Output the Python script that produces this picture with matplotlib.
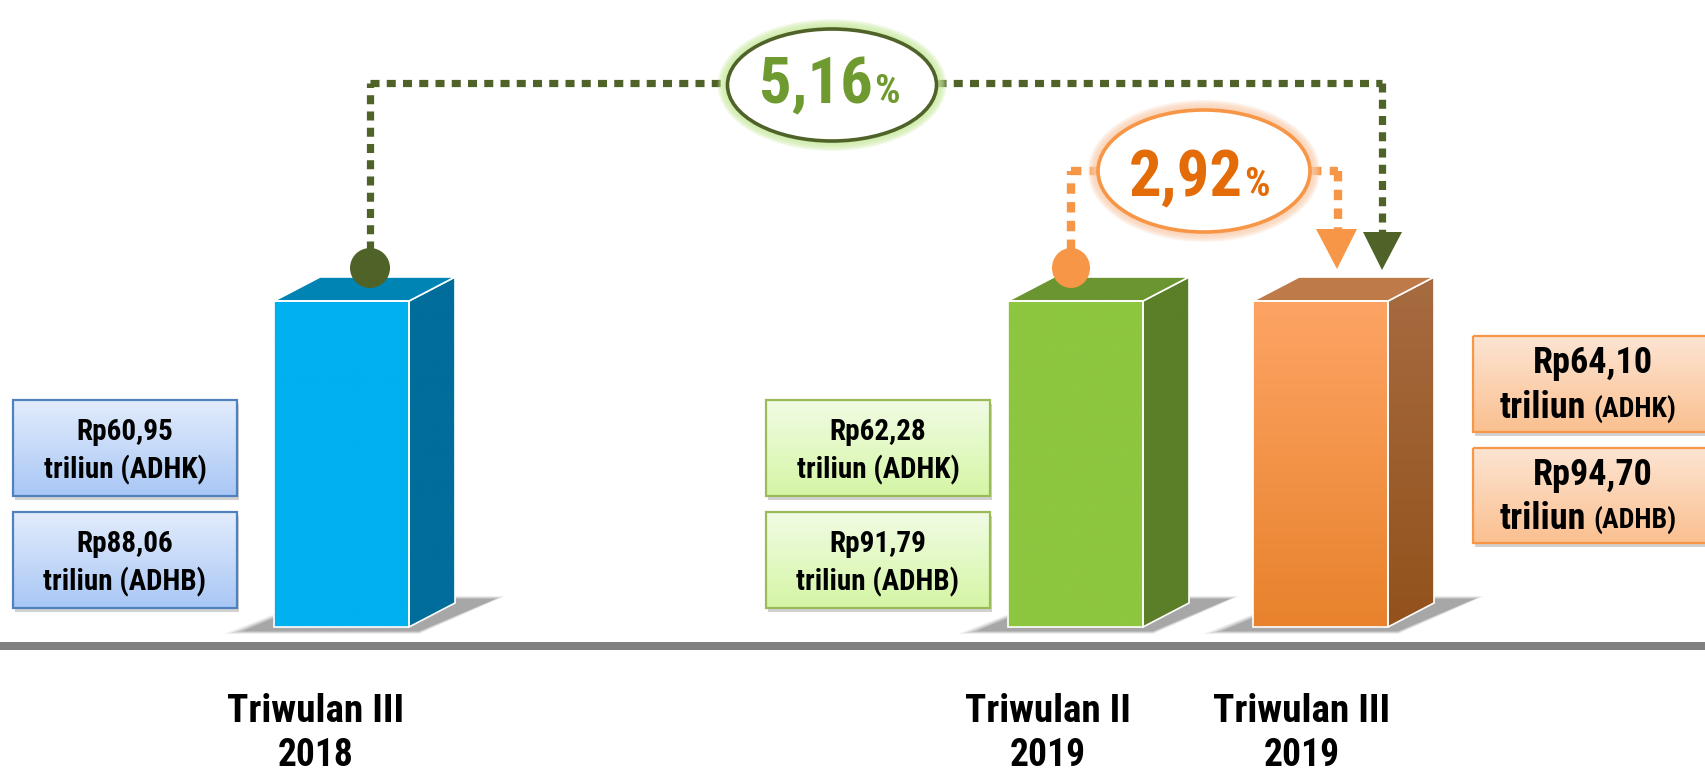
import numpy as np
import matplotlib
matplotlib.use("Agg")
import matplotlib.pyplot as plt
from matplotlib import font_manager as fm
from matplotlib.patches import Polygon, Rectangle, Ellipse
from matplotlib.colors import to_rgb

# ---------------- data ----------------
categories = ["Triwulan III\n2018", "Triwulan II\n2019", "Triwulan III\n2019"]
adhk_values = [60.95, 62.28, 64.10]
adhb_values = [88.06, 91.79, 94.70]
growth_labels = ["5,16", "2,92"]

# ---------------- font choice (condensed if available) ----------------
avail = {f.name for f in fm.fontManager.ttflist}
STRETCH = "normal"
FAM = None
for cand in ["Liberation Sans Narrow", "Arial Narrow", "Roboto Condensed", "Noto Sans Condensed",
             "Open Sans Condensed", "Nimbus Sans Narrow", "Noto Sans SemiCondensed"]:
    if cand in avail:
        FAM = cand
        break
if FAM is None:
    extra = sorted(n for n in avail if ("Condensed" in n or "Narrow" in n) and "Sans" in n)
    if extra:
        FAM = extra[0]
if FAM is None:
    dv_cond = [f for f in fm.fontManager.ttflist if f.name == "DejaVu Sans" and f.stretch == "condensed"]
    if dv_cond:
        FAM, STRETCH = "DejaVu Sans", "condensed"
    else:
        FAM = "Liberation Sans"
plt.rcParams["font.family"] = [FAM, "DejaVu Sans"]

W, H = 1706, 777
fig = plt.figure(figsize=(W / 100, H / 100), dpi=100)
ax = fig.add_axes([0, 0, 1, 1])
ax.set_axis_off()
ax.set_xlim(0, W)
ax.set_ylim(H, 0)
renderer = fig.canvas.get_renderer()

def fmt(v):
    return f"{v:.2f}".replace(".", ",")

def fit_text(x, y, s, size, target_w, **kw):
    t = ax.text(x, y, s, fontsize=size, fontweight="bold", fontstretch=STRETCH, zorder=kw.pop("zorder", 8), **kw)
    w = t.get_window_extent(renderer=renderer).width
    if w > target_w:
        t.set_fontsize(size * target_w / w)
    return t

def grad_fill(patch, c_top, c_bot, y0, y1, x0, x1, z):
    ax.add_patch(patch)
    n = 64
    t = np.linspace(0, 1, n)[:, None, None]
    arr = (1 - t) * np.array(to_rgb(c_top))[None, None, :] + t * np.array(to_rgb(c_bot))[None, None, :]
    im = ax.imshow(arr, extent=[x0, x1, y1, y0], origin="upper", aspect="auto",
                   zorder=z, interpolation="bicubic")
    im.set_clip_path(patch)

# bar geometry
bar_x0 = [274, 1008, 1253]
bar_w = 135
bar_top, bar_bot = 301, 627
dx, dy = 46, 24
front_cols = [("#00B0F0", "#00B0F0"), ("#8DC63F", "#8DC63F"), ("#FDA464", "#E8822C")]
top_cols = ["#0084B4", "#6A9530", "#BF7A4A"]
side_cols = [("#006D9B", "#006D9B"), ("#5B7F28", "#5B7F28"), ("#A66B40", "#93521C")]

# ground line
ax.add_patch(Rectangle((0, 642), W, 8, facecolor="#808080", edgecolor="none", zorder=1))

for i in range(len(categories)):
    x0 = bar_x0[i]
    x1 = x0 + bar_w
    for k, a in enumerate([0.08, 0.12, 0.16, 0.20]):
        g = 10 - k * 3
        ax.add_patch(Polygon([(x0 - 50 + k * 6, bar_bot + 4 + g * 0.3), (x1 + 10, bar_bot + 4 + g * 0.3),
                              (x1 + dx + 40 + g, bar_bot - dy - 4 - g * 0.3), (x0 + dx, bar_bot - dy - 4 - g * 0.3)],
                             closed=True, facecolor="#404040", edgecolor="none", alpha=a, zorder=2))
    side = Polygon([(x1, bar_top), (x1 + dx, bar_top - dy), (x1 + dx, bar_bot - dy), (x1, bar_bot)],
                   closed=True, facecolor="none", edgecolor="none", zorder=3)
    grad_fill(side, side_cols[i][0], side_cols[i][1], bar_top - dy, bar_bot, x1, x1 + dx, 3)
    ax.add_patch(Polygon([(x1, bar_top), (x1 + dx, bar_top - dy), (x1 + dx, bar_bot - dy), (x1, bar_bot)],
                         closed=True, facecolor="none", edgecolor="white", lw=1.2, zorder=4))
    ax.add_patch(Polygon([(x0, bar_top), (x1, bar_top), (x1 + dx, bar_top - dy), (x0 + dx, bar_top - dy)],
                         closed=True, facecolor=top_cols[i], edgecolor="white", lw=1.2, zorder=4))
    front = Rectangle((x0, bar_top), bar_w, bar_bot - bar_top, facecolor="none", edgecolor="none", zorder=3)
    grad_fill(front, front_cols[i][0], front_cols[i][1], bar_top, bar_bot, x0, x1, 3)
    ax.add_patch(Rectangle((x0, bar_top), bar_w, bar_bot - bar_top, facecolor="none",
                           edgecolor="white", lw=1.2, zorder=4))

# category labels
cat_x = [316, 1048, 1302]
cat_w1 = [177, 166, 177]
for i, c in enumerate(categories):
    l1, l2 = c.split("\n")
    fit_text(cat_x[i], 712, l1, 31, cat_w1[i], ha="center", va="center", color="black", zorder=5)
    fit_text(cat_x[i], 755, l2, 31, 76, ha="center", va="center", color="black", zorder=5)

# value boxes
box_geom = [(13, 237, [(400, 496), (512, 608)]),
            (766, 990, [(400, 496), (512, 608)]),
            (1473, 1712, [(336, 432), (448, 543)])]
box_cols = [("#E2ECFC", "#A9C7F5", "#4F81BD"),
            ("#F1FCE4", "#D5F5A5", "#9BBB59"),
            ("#FDE4D2", "#FAC090", "#F79646")]
for i in range(len(categories)):
    bx0, bx1, rows = box_geom[i]
    ct, cb, ce = box_cols[i]
    vals = [(adhk_values[i], "ADHK"), (adhb_values[i], "ADHB")]
    for (y0, y1), (v, kind) in zip(rows, vals):
        ax.add_patch(Rectangle((bx0 + 2, y0 + 4), bx1 - bx0, y1 - y0, facecolor="#000000",
                               edgecolor="none", alpha=0.18, zorder=5))
        r = Rectangle((bx0, y0), bx1 - bx0, y1 - y0, facecolor="none", edgecolor="none", zorder=6)
        grad_fill(r, ct, cb, y0, y1, bx0, bx1, 6)
        ax.add_patch(Rectangle((bx0, y0), bx1 - bx0, y1 - y0, facecolor="none", edgecolor=ce, lw=1.6, zorder=7))
        h = y1 - y0
        if i < 2:
            cx = (bx0 + bx1) / 2
            fit_text(cx, y0 + h * 0.33, f"Rp{fmt(v)}", 21, 100, ha="center", va="center")
            fit_text(cx, y0 + h * 0.73, f"triliun ({kind})", 21, 168, ha="center", va="center")
        else:
            fit_text(1593, y0 + h * 0.28, f"Rp{fmt(v)}", 26, 120, ha="center", va="center")
            fit_text(1586, y0 + h * 0.75, "triliun", 26, 88, ha="right", va="center")
            fit_text(1593, y0 + h * 0.76, f"({kind})", 20, 95, ha="left", va="center")

# ---------------- growth connectors ----------------
dark = "#4F6228"
orange = "#F79646"

def dotted(xs, ys, color, lw):
    ax.plot(xs, ys, color=color, lw=lw, linestyle=(0, (1.25, 1.0)), solid_capstyle="butt",
            dash_capstyle="butt", zorder=9)

dotted([370, 370], [250, 83], dark, 5.2)
dotted([370, 727], [83, 83], dark, 5.2)
dotted([937, 1382], [83, 83], dark, 5.2)
dotted([1382, 1382], [83, 232], dark, 5.2)
ax.add_patch(Polygon([(1363, 232), (1402, 232), (1382, 270)], closed=True, facecolor=dark,
                     edgecolor="none", zorder=9))
ax.add_patch(Ellipse((370, 268), 40, 40, facecolor=dark, edgecolor="none", zorder=10))

dotted([1071, 1071], [250, 171], orange, 6.0)
dotted([1071, 1097], [171, 171], orange, 6.0)
dotted([1311, 1338], [171, 171], orange, 6.0)
dotted([1338, 1338], [171, 229], orange, 6.0)
ax.add_patch(Polygon([(1316, 229), (1357, 229), (1337, 269)], closed=True, facecolor=orange,
                     edgecolor="none", zorder=9))
ax.add_patch(Ellipse((1071, 268), 38, 40, facecolor=orange, edgecolor="none", zorder=10))

ovals = [((832, 85), 209, 112, dark, "#C9EA9F", "#6F9A2F", 103, 873, 114),
         ((1204, 171), 212, 122, orange, "#FBCFAE", "#E36C09", 196, 1243, 114)]
for (cen, w, h, ec, glow, tc, base, split, tw), lab in zip(ovals, growth_labels):
    for k in range(8, 0, -1):
        ax.add_patch(Ellipse(cen, w + 2.5 * k, h + 2.5 * k, facecolor=glow, edgecolor="none",
                             alpha=0.22, zorder=11))
    ax.add_patch(Ellipse(cen, w, h, facecolor="white", edgecolor=ec, lw=2.6, zorder=12))
    fit_text(split, base, lab, 50, tw, ha="right", va="baseline", color=tc, zorder=13)
    fit_text(split + 1, base, "%", 29, 32, ha="left", va="baseline", color=tc, zorder=13)

ax.set_xlim(0, W)
ax.set_ylim(H, 0)
fig.savefig("out.png", dpi=100, facecolor="white")
